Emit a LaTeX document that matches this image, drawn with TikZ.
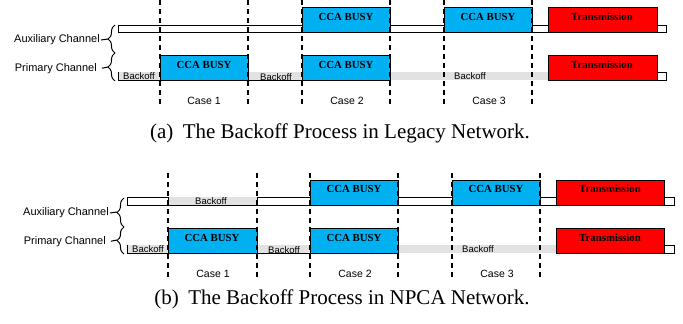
\documentclass[tikz,border=0pt]{standalone}
\usepackage{fontspec}
\setmainfont{Liberation Serif}
\setsansfont{Liberation Sans}
\usetikzlibrary{decorations.pathreplacing}

\definecolor{busyblue}{RGB}{0,176,240}
\definecolor{txred}{RGB}{255,0,0}
\definecolor{backgray}{RGB}{226,226,226}

\tikzset{
  busy/.style={draw, fill=busyblue, line width=0.8pt},
  txbox/.style={draw, fill=txred, line width=0.8pt},
  boxtext/.style={font=\fontsize{10.8}{12}\selectfont\bfseries, inner sep=0pt},
  bofftext/.style={font=\sffamily\fontsize{9.5}{11}\selectfont, inner sep=0pt},
  chanlbl/.style={font=\sffamily\fontsize{11}{12}\selectfont, anchor=east, inner sep=1pt},
  caselbl/.style={font=\sffamily\fontsize{10.5}{12}\selectfont},
  slotline/.style={dash pattern=on 5pt off 4pt, line width=1.1pt},
  chanbrace/.style={decorate, decoration={brace, amplitude=7pt}, line width=1pt},
  subcap/.style={font=\fontsize{21}{24}\selectfont}
}

\begin{document}
\begin{tikzpicture}[x=1pt, y=-1pt]
        \useasboundingbox (0,0) rectangle (683,324);

        % (a) legacy network
        \draw[line width=0.8pt, fill=white] (118,25) rectangle (666,32);
        \draw[busy] (302,7) rectangle (390,32);
        \draw[busy] (444,7) rectangle (532,32);
        \draw[txbox] (548,7) rectangle (657,32);
        \node[boxtext] (busyAa) at (346,17) {CCA BUSY};
        \node[boxtext] (busyAb) at (488,17) {CCA BUSY};
        \node[boxtext] (txA) at (602,17) {Transmission};

        \fill[backgray] (118,72) rectangle (548,80);
        \draw[line width=0.8pt] (118,72) -- (118,80) -- (390,80);
        \draw[line width=0.8pt, fill=white] (657,72) rectangle (666,80);
        \draw[busy] (160,55) rectangle (248,80);
        \draw[busy] (302,55) rectangle (390,80);
        \draw[txbox] (548,55) rectangle (657,80);
        \node[boxtext] (busyPa) at (204,65) {CCA BUSY};
        \node[boxtext] (busyPb) at (346,65) {CCA BUSY};
        \node[boxtext] (txP) at (602,65) {Transmission};
        \node[bofftext] (boffPa) at (139,76) {Backoff};
        \node[bofftext] (boffPb) at (276,77) {Backoff};
        \node[bofftext] (boffPc) at (470,76) {Backoff};

        \draw[slotline] (160,0) -- (160,107);
        \draw[slotline] (248,0) -- (248,107);
        \draw[slotline] (302,0) -- (302,107);
        \draw[slotline] (390,0) -- (390,107);
        \draw[slotline] (444,0) -- (444,107);
        \draw[slotline] (532,0) -- (532,107);

        \draw[chanbrace] (115,53) -- (115,25);
        \draw[chanbrace] (115,81) -- (115,53);
        \coordinate (auxtipA) at (108,39);
        \coordinate (primtipA) at (108,67);
        \node[chanlbl] (auxA) at (101,40) {Auxiliary Channel};
        \node[chanlbl] (primA) at (98,69) {Primary Channel};
        \draw[line width=1pt] (auxA.east) -- (auxtipA);
        \draw[line width=1pt, shorten <=4pt] (primA.east) -- (primtipA);

        \node[caselbl] (caseAa) at (204,101) {Case 1};
        \node[caselbl] (caseAb) at (347,101) {Case 2};
        \node[caselbl] (caseAc) at (489,101) {Case 3};

        \node[subcap] (capA) at (340,133) {(a)\hspace{0.45em}The Backoff Process in Legacy Network.};

        % (b) NPCA network
        \fill[backgray] (168,197) rectangle (257,205);
        \draw[line width=0.8pt, fill=white] (127,197) rectangle (168,205);
        \draw[line width=0.8pt, fill=white] (257,197) rectangle (674,205);
        \draw[line width=0.8pt] (168,205) -- (257,205);
        \draw[busy] (310,180) rectangle (398,205);
        \draw[busy] (452,180) rectangle (540,205);
        \draw[txbox] (556,180) rectangle (664,205);
        \node[bofftext] (boffXa) at (211,201) {Backoff};
        \node[boxtext] (busyXa) at (354,189) {CCA BUSY};
        \node[boxtext] (busyXb) at (496,189) {CCA BUSY};
        \node[boxtext] (txX) at (610,189) {Transmission};

        \fill[backgray] (127,245) rectangle (556,253);
        \draw[line width=0.8pt] (127,245) -- (127,253) -- (398,253);
        \draw[line width=0.8pt, fill=white] (664,245) rectangle (674,253);
        \draw[busy] (168,228) rectangle (257,253);
        \draw[busy] (310,228) rectangle (398,253);
        \draw[txbox] (556,228) rectangle (664,253);
        \node[boxtext] (busyQa) at (212,238) {CCA BUSY};
        \node[boxtext] (busyQb) at (354,238) {CCA BUSY};
        \node[boxtext] (txQ) at (610,238) {Transmission};
        \node[bofftext] (boffQa) at (148,249) {Backoff};
        \node[bofftext] (boffQb) at (284,250) {Backoff};
        \node[bofftext] (boffQc) at (478,249) {Backoff};

        \draw[slotline] (168,173) -- (168,280);
        \draw[slotline] (257,173) -- (257,280);
        \draw[slotline] (310,173) -- (310,280);
        \draw[slotline] (398,173) -- (398,280);
        \draw[slotline] (452,173) -- (452,280);
        \draw[slotline] (540,173) -- (540,280);

        \draw[chanbrace] (124,227) -- (124,198);
        \draw[chanbrace] (124,254) -- (124,227);
        \coordinate (auxtipB) at (117,212);
        \coordinate (primtipB) at (117,240);
        \node[chanlbl] (auxB) at (110,213) {Auxiliary Channel};
        \node[chanlbl] (primB) at (107,242) {Primary Channel};
        \draw[line width=1pt] (auxB.east) -- (auxtipB);
        \draw[line width=1pt, shorten <=4pt] (primB.east) -- (primtipB);

        \node[caselbl] (caseBa) at (213,274) {Case 1};
        \node[caselbl] (caseBb) at (355,274) {Case 2};
        \node[caselbl] (caseBc) at (497,274) {Case 3};

        \node[subcap] (capB) at (342,299) {(b)\hspace{0.45em}The Backoff Process in NPCA Network.};
      \end{tikzpicture}
\end{document}
